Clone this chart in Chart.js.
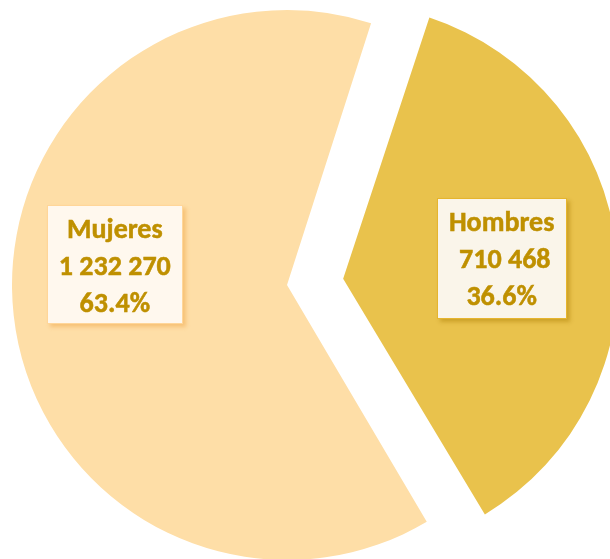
<!DOCTYPE html>
<html><head><meta charset="utf-8">
<script src="https://cdn.jsdelivr.net/npm/chart.js@4/dist/chart.umd.min.js"></script>
<style>
html,body{margin:0;padding:0;background:#fff;overflow:hidden;width:610px;height:559px;}
#wrap{position:relative;width:610px;height:559px;}
canvas{position:absolute;left:0;top:0;}
.lbl{position:absolute;box-sizing:border-box;text-align:center;font-family:Carlito,Lato,"Open Sans",sans-serif;font-weight:bold;color:#BF9000;font-size:28px;line-height:37px;white-space:pre;-webkit-text-stroke:0.5px #BF9000;}
</style></head>
<body><div id="wrap"><canvas id="c" width="610" height="559"></canvas></div>
<script>
const categories = ["Hombres", "Mujeres"];
const values = [710468, 1232270];
const valueLabels = ["710 468", "1 232 270"];
const percentLabels = ["36.6%", "63.4%"];

const sliceColors = ["#E9C24C", "#FEDEA7"];
const R = 275;
const explode = 226;           // Chart.js offset for Hombres
const fix = 1 - Math.sin(2 * Math.PI * values[0] / (values[0] + values[1]));
const hombresR = R - explode / 4 * fix;
const tinyW = 0.0001;

const labelStyle = [
  {frac: 0.58, dx: 0, dy: -3, w: 130, h: 121, bg: "#FAF5EA", border: "#E6B52E", shadow: "3px 3px 4px rgba(170,125,0,0.45)", text: " " },
  {frac: 0.63, dx: 0, dy: -40, w: 136, h: 119, bg: "#FFF8EE", border: "#FFD699", shadow: "3px 3px 4px rgba(240,160,60,0.45)", text: "" }
];

const ds0 = {
  data: values,
  backgroundColor: ["rgba(0,0,0,0)", sliceColors[1]],
  borderWidth: 0,
  offset: [0, 0],
  weight: 1,
  radius: R
};
const ds1 = {
  data: values,
  backgroundColor: [sliceColors[0], "rgba(0,0,0,0)"],
  borderWidth: 0,
  offset: [explode, 0],
  weight: tinyW,
  radius: hombresR * (1 + tinyW) / tinyW
};

const labelPlugin = {
  id: 'htmlLabels',
  afterDraw(chart) {
    const wrap = document.getElementById('wrap');
    wrap.querySelectorAll('.lbl').forEach(e => e.remove());
    const arcsSrc = [chart.getDatasetMeta(1).data[0], chart.getDatasetMeta(0).data[1]];
    const offs = [explode, 0];
    arcsSrc.forEach((el, i) => {
      const half = (el.startAngle + el.endAngle) / 2;
      const o = offs[i] / 4;
      const cx = el.x + Math.cos(half) * o;
      const cy = el.y + Math.sin(half) * o;
      const st = labelStyle[i];
      const px = cx + Math.cos(half) * R * st.frac + st.dx;
      const py = cy + Math.sin(half) * R * st.frac + st.dy;
      const d = document.createElement('div');
      d.className = 'lbl';
      d.style.width = st.w + 'px';
      d.style.height = st.h + 'px';
      d.style.left = (px - st.w / 2) + 'px';
      d.style.top = (py - st.h / 2) + 'px';
      d.style.background = st.bg;
      d.style.border = '1.5px solid ' + st.border;
      d.style.boxShadow = st.shadow;
      d.style.paddingTop = '4px';
      d.textContent = categories[i] + '\n' + st.text + valueLabels[i] + '\n' + percentLabels[i];
      wrap.appendChild(d);
    });
  }
};

new Chart(document.getElementById('c'), {
  type: 'pie',
  data: { labels: categories, datasets: [ds0, ds1] },
  options: {
    responsive: false,
    animation: false,
    rotation: 17.8,
    layout: { padding: { left: 0, right: 36, top: 11, bottom: 0 } },
    plugins: { legend: { display: false }, tooltip: { enabled: false } }
  },
  plugins: [labelPlugin]
});
</script>
</body></html>
